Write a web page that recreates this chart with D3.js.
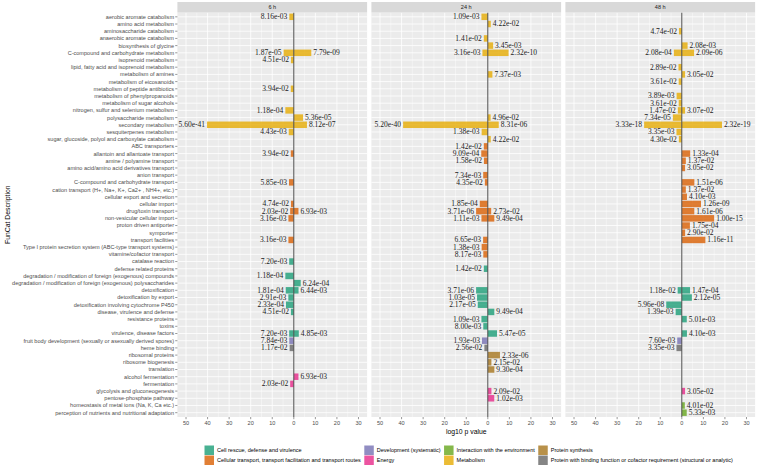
<!DOCTYPE html>
<html><head><meta charset="utf-8">
<script src="https://cdn.jsdelivr.net/npm/d3@7"></script>
<style>body{margin:0;background:#fff}</style>
</head><body>
<svg id="c" width="757" height="468"></svg>
<script>
// ---------------- DATA ----------------
const catMetabolism = ["aerobic aromate catabolism","amino acid metabolism","aminosaccharide catabolism","anaerobic aromate catabolism","biosynthesis of glycine","C-compound and carbohydrate metabolism","isoprenoid metabolism","lipid, fatty acid and isoprenoid metabolism","metabolism of amines","metabolism of eicosanoids","metabolism of peptide antibiotics","metabolism of phenylpropanoids","metabolism of sugar alcohols","nitrogen, sulfur and selenium metabolism","polysaccharide metabolism","secondary metabolism","sesquiterpenes metabolism","sugar, glucoside, polyol and carboxylate catabolism"];
const catTransport = ["ABC transporters","allantoin and allantoate transport","amine / polyamine transport","amino acid/amino acid derivatives transport","anion transport","C-compound and carbohydrate transport","cation transport (H+, Na+, K+, Ca2+ , NH4+, etc.)","cellular export and secretion","cellular import","drug/toxin transport","non-vesicular cellular import","proton driven antiporter","symporter","transport facilities","Type I protein secretion system (ABC-type transport systems)","vitamine/cofactor transport"];
const catRescue = ["catalase reaction","defense related proteins","degradation / modification of foreign (exogenous) compounds","degradation / modification of foreign (exogenous) polysaccharides","detoxification","detoxification by export","detoxification involving cytochrome P450","disease, virulence and defense","resistance proteins","toxins","virulence, disease factors"];
const catDevelopment = ["fruit body development (sexually or asexually derived spores)"];
const catBinding = ["heme binding"];
const catProteinSynthesis = ["ribosomal proteins","ribosome biogenesis","translation"];
const catEnergy = ["alcohol fermentation","fermentation","glycolysis and gluconeogenesis","pentose-phosphate pathway"];
const catEnvironment = ["homeostasis of metal ions (Na, K, Ca etc.)","perception of nutrients and nutritional adaptation"];

const groupNames = ["Cell rescue, defense and virulence","Cellular transport, transport facilitation and transport routes","Development (systematic)","Energy","Interaction with the environment","Metabolism","Protein synthesis","Protein with binding function or cofactor requirement (structural or analytic)"];
const groupColors = ["#1B9E77","#D95F02","#7570B3","#E7298A","#66A61E","#E6AB02","#A6761D","#666666"];

const timePoints = ["6 h","24 h","48 h"];
const xTicks = [-50,-40,-30,-20,-10,0,10,20,30];
const xMinor = [-45,-35,-25,-15,-5,5,15,25];

// [category, p-value of down side (left), p-value of up side (right)]
const h6 = [
["aerobic aromate catabolism","8.16e-03",null],
["C-compound and carbohydrate metabolism","1.87e-05","7.79e-09"],
["isoprenoid metabolism","4.51e-02",null],
["metabolism of peptide antibiotics","3.94e-02",null],
["nitrogen, sulfur and selenium metabolism","1.18e-04",null],
["polysaccharide metabolism",null,"5.36e-05"],
["secondary metabolism","5.60e-41","8.12e-07"],
["sesquiterpenes metabolism","4.43e-03",null],
["allantoin and allantoate transport","3.94e-02",null],
["C-compound and carbohydrate transport","5.85e-03",null],
["cellular import","4.74e-02",null],
["drug/toxin transport","2.03e-02","6.93e-03"],
["non-vesicular cellular import","3.16e-03",null],
["transport facilities","3.16e-03",null],
["catalase reaction","7.20e-03",null],
["degradation / modification of foreign (exogenous) compounds","1.18e-04",null],
["degradation / modification of foreign (exogenous) polysaccharides",null,"6.24e-04"],
["detoxification","1.81e-04","6.44e-03"],
["detoxification by export","2.91e-03",null],
["detoxification involving cytochrome P450","2.33e-04",null],
["disease, virulence and defense","4.51e-02",null],
["virulence, disease factors","7.20e-03","4.85e-03"],
["fruit body development (sexually or asexually derived spores)","7.84e-03",null],
["heme binding","1.17e-02",null],
["alcohol fermentation",null,"6.93e-03"],
["fermentation","2.03e-02",null]
];
const h24 = [
["aerobic aromate catabolism","1.09e-03",null],
["amino acid metabolism",null,"4.22e-02"],
["anaerobic aromate catabolism","1.41e-02",null],
["biosynthesis of glycine",null,"3.45e-03"],
["C-compound and carbohydrate metabolism","3.16e-03","2.32e-10"],
["metabolism of amines",null,"7.37e-03"],
["polysaccharide metabolism",null,"4.96e-02"],
["secondary metabolism","5.20e-40","8.31e-06"],
["sesquiterpenes metabolism","1.38e-03",null],
["sugar, glucoside, polyol and carboxylate catabolism",null,"4.22e-02"],
["ABC transporters","1.42e-02",null],
["allantoin and allantoate transport","9.09e-04",null],
["amine / polyamine transport","1.58e-02",null],
["anion transport","7.34e-03",null],
["C-compound and carbohydrate transport","4.35e-02",null],
["cellular import","1.85e-04",null],
["drug/toxin transport","3.71e-06","2.73e-02"],
["non-vesicular cellular import","1.11e-03","9.49e-04"],
["transport facilities","6.65e-03",null],
["Type I protein secretion system (ABC-type transport systems)","1.38e-03",null],
["vitamine/cofactor transport","8.17e-03",null],
["defense related proteins","1.42e-02",null],
["detoxification","3.71e-06",null],
["detoxification by export","1.03e-05",null],
["detoxification involving cytochrome P450","2.17e-05",null],
["disease, virulence and defense",null,"9.49e-04"],
["resistance proteins","1.09e-03",null],
["toxins","8.00e-03",null],
["virulence, disease factors",null,"5.47e-05"],
["fruit body development (sexually or asexually derived spores)","1.93e-03",null],
["heme binding","2.56e-02",null],
["ribosomal proteins",null,"2.33e-06"],
["ribosome biogenesis",null,"2.15e-02"],
["translation",null,"9.30e-04"],
["glycolysis and gluconeogenesis",null,"2.09e-02"],
["pentose-phosphate pathway",null,"1.02e-03"]
];
const h48 = [
["aminosaccharide catabolism","4.74e-02",null],
["biosynthesis of glycine",null,"2.08e-03"],
["C-compound and carbohydrate metabolism","2.08e-04","2.09e-06"],
["lipid, fatty acid and isoprenoid metabolism","2.89e-02",null],
["metabolism of amines",null,"3.05e-02"],
["metabolism of eicosanoids","3.61e-02",null],
["metabolism of phenylpropanoids","3.89e-03",null],
["metabolism of sugar alcohols","3.61e-02",null],
["nitrogen, sulfur and selenium metabolism","1.47e-02","3.07e-02"],
["polysaccharide metabolism","7.34e-05",null],
["secondary metabolism","3.33e-18","2.32e-19"],
["sesquiterpenes metabolism","3.35e-03",null],
["sugar, glucoside, polyol and carboxylate catabolism","4.30e-02",null],
["allantoin and allantoate transport",null,"1.33e-04"],
["amine / polyamine transport",null,"1.37e-02"],
["amino acid/amino acid derivatives transport",null,"3.05e-02"],
["C-compound and carbohydrate transport",null,"1.51e-06"],
["cation transport (H+, Na+, K+, Ca2+ , NH4+, etc.)",null,"1.37e-02"],
["cellular export and secretion",null,"4.10e-03"],
["cellular import",null,"1.26e-09"],
["drug/toxin transport",null,"1.61e-06"],
["non-vesicular cellular import",null,"1.00e-15"],
["proton driven antiporter",null,"1.75e-04"],
["symporter",null,"2.90e-02"],
["transport facilities",null,"1.16e-11"],
["detoxification","1.18e-02","1.47e-04"],
["detoxification by export",null,"2.12e-05"],
["detoxification involving cytochrome P450","5.96e-08",null],
["disease, virulence and defense","1.39e-03",null],
["resistance proteins",null,"5.01e-03"],
["virulence, disease factors",null,"4.10e-03"],
["fruit body development (sexually or asexually derived spores)","7.60e-03",null],
["heme binding","3.35e-03",null],
["glycolysis and gluconeogenesis",null,"3.05e-02"],
["homeostasis of metal ions (Na, K, Ca etc.)",null,"4.01e-02"],
["perception of nutrients and nutritional adaptation",null,"5.33e-03"]
];

// ---------------- BUILD ----------------
const groupCats = [
  [groupNames[5], catMetabolism],
  [groupNames[1], catTransport],
  [groupNames[0], catRescue],
  [groupNames[2], catDevelopment],
  [groupNames[7], catBinding],
  [groupNames[6], catProteinSynthesis],
  [groupNames[3], catEnergy],
  [groupNames[4], catEnvironment]
];
const categories = groupCats.flatMap(d => d[1]);
const groupOf = new Map(groupCats.flatMap(([g, cs]) => cs.map(c => [c, g])));
const panelsData = [h6, h24, h48];

const svg = d3.select("#c");
const W = 757, H = 468;
const left0 = 177.4, panelW = 189.7, gap = 4.3;
const pTop = 12.5, pBottom = 417;
const sans = "'Liberation Sans', Arial, sans-serif";
const serif = "'Liberation Serif', 'Times New Roman', serif";

// pick a font size so that a sample text gets a given rendered width
function fitSize(txt, family, target, start) {
  const t = svg.append("text").attr("font-family", family).text(txt);
  let s = start;
  for (let k = 0; k < 4; k++) {
    t.attr("font-size", s);
    const w = t.node().getComputedTextLength();
    if (w > 0) s = s * target / w;
  }
  t.remove();
  return Math.max(start * 0.8, Math.min(start * 1.25, s));
}
const yLabSize = fitSize("fruit body development (sexually or asexually derived spores)", sans, 151, 5.6);
const legSize = fitSize("Cellular transport, transport facilitation and transport routes", sans, 144, 5.6);
const valSize = fitSize("5.36e-05", serif, 26.5, 7.4);

const x = d3.scaleLinear().domain([-54, 34]).range([0, panelW]);
const y = d3.scalePoint().domain(categories).range([pTop, pBottom]).padding(0.6);
const bh = y.step() * 0.9;
const color = d3.scaleOrdinal(groupNames, groupColors);

svg.append("rect").attr("width", W).attr("height", H).attr("fill", "#fff");

panelsData.forEach((rows, i) => {
  const g = svg.append("g").attr("transform", `translate(${left0 + i * (panelW + gap)},0)`);
  g.append("rect").attr("x", 0).attr("y", pTop).attr("width", panelW).attr("height", pBottom - pTop).attr("fill", "#EBEBEB");
  g.selectAll(".minx").data(xMinor).join("line")
    .attr("x1", d => x(d)).attr("x2", d => x(d)).attr("y1", pTop).attr("y2", pBottom)
    .attr("stroke", "#fff").attr("stroke-width", 0.4);
  g.selectAll(".majx").data(xTicks).join("line")
    .attr("x1", d => x(d)).attr("x2", d => x(d)).attr("y1", pTop).attr("y2", pBottom)
    .attr("stroke", "#fff").attr("stroke-width", 0.8);
  g.selectAll(".majy").data(categories).join("line")
    .attr("x1", 0).attr("x2", panelW).attr("y1", d => y(d)).attr("y2", d => y(d))
    .attr("stroke", "#fff").attr("stroke-width", 0.8);

  const bars = [];
  rows.forEach(([c, down, up]) => {
    if (down) bars.push({c, p: down, v: Math.log10(+down)});
    if (up) bars.push({c, p: up, v: -Math.log10(+up)});
  });
  g.selectAll(".bar").data(bars).join("rect")
    .attr("x", d => x(Math.min(0, d.v))).attr("width", d => Math.abs(x(d.v) - x(0)))
    .attr("y", d => y(d.c) - bh / 2).attr("height", bh)
    .attr("fill", d => color(groupOf.get(d.c))).attr("fill-opacity", 0.8);
  g.append("line").attr("x1", x(0)).attr("x2", x(0)).attr("y1", pTop).attr("y2", pBottom)
    .attr("stroke", "#4D4D4D").attr("stroke-width", 1);
  g.selectAll(".lab").data(bars).join("text")
    .attr("x", d => d.v < 0 ? x(d.v) - 2 : x(d.v) + 2)
    .attr("y", d => y(d.c)).attr("dy", "0.33em")
    .attr("text-anchor", d => d.v < 0 ? "end" : "start")
    .attr("font-family", serif).attr("font-size", valSize).attr("fill", "#1a1a1a")
    .text(d => d.p);

  // strip
  g.append("rect").attr("x", 0).attr("y", 2).attr("width", panelW).attr("height", pTop - 2).attr("fill", "#D9D9D9");
  g.append("text").attr("x", panelW / 2).attr("y", (pTop + 2) / 2).attr("dy", "0.35em")
    .attr("text-anchor", "middle").attr("font-family", sans).attr("font-size", yLabSize).attr("fill", "#1A1A1A")
    .text(timePoints[i]);

  // x axis
  const ax = g.append("g").attr("transform", `translate(0,${pBottom})`);
  ax.selectAll("line").data(xTicks).join("line")
    .attr("x1", d => x(d)).attr("x2", d => x(d)).attr("y1", 0).attr("y2", 2.2)
    .attr("stroke", "#333").attr("stroke-width", 0.5);
  ax.selectAll("text").data(xTicks).join("text")
    .attr("x", d => x(d)).attr("y", 6.3).attr("dy", "0.35em").attr("text-anchor", "middle")
    .attr("font-family", sans).attr("font-size", yLabSize).attr("fill", "#4D4D4D")
    .text(d => Math.abs(d));
});

// y axis
const ay = svg.append("g");
ay.selectAll("line").data(categories).join("line")
  .attr("x1", left0 - 2.2).attr("x2", left0).attr("y1", d => y(d)).attr("y2", d => y(d))
  .attr("stroke", "#333").attr("stroke-width", 0.5);
ay.selectAll("text").data(categories).join("text")
  .attr("x", left0 - 3.4).attr("y", d => y(d)).attr("dy", "0.35em").attr("text-anchor", "end")
  .attr("font-family", sans).attr("font-size", yLabSize).attr("fill", "#4D4D4D")
  .text(d => d);

// axis titles
const plotMidX = left0 + (3 * panelW + 2 * gap) / 2;
svg.append("text").attr("x", plotMidX).attr("y", 431.5).attr("dy", "0.35em").attr("text-anchor", "middle")
  .attr("font-family", sans).attr("font-size", yLabSize * 1.23).attr("fill", "#000").text("log10 p value");
svg.append("text").attr("transform", `translate(8,${(pTop + pBottom) / 2}) rotate(-90)`)
  .attr("dy", "0.35em").attr("text-anchor", "middle")
  .attr("font-family", sans).attr("font-size", yLabSize * 1.23).attr("fill", "#000").text("FunCat Description");

// legend: 2 rows, filled by column
const key = 9.5, rowY = [445.5, 455.5];
let lx = 204.5;
const lg = svg.append("g");
for (let col = 0; col < 4; col++) {
  let maxW = 0;
  for (let r = 0; r < 2; r++) {
    const name = groupNames[col * 2 + r];
    lg.append("rect").attr("x", lx).attr("y", rowY[r]).attr("width", key).attr("height", key)
      .attr("fill", color(name)).attr("fill-opacity", 0.8);
    const t = lg.append("text").attr("x", lx + key + 3).attr("y", rowY[r] + key / 2).attr("dy", "0.35em")
      .attr("font-family", sans).attr("font-size", legSize).attr("fill", "#000").text(name);
    maxW = Math.max(maxW, t.node().getComputedTextLength());
  }
  lx += key + 3 + maxW + 3.5;
}
</script>
</body></html>
